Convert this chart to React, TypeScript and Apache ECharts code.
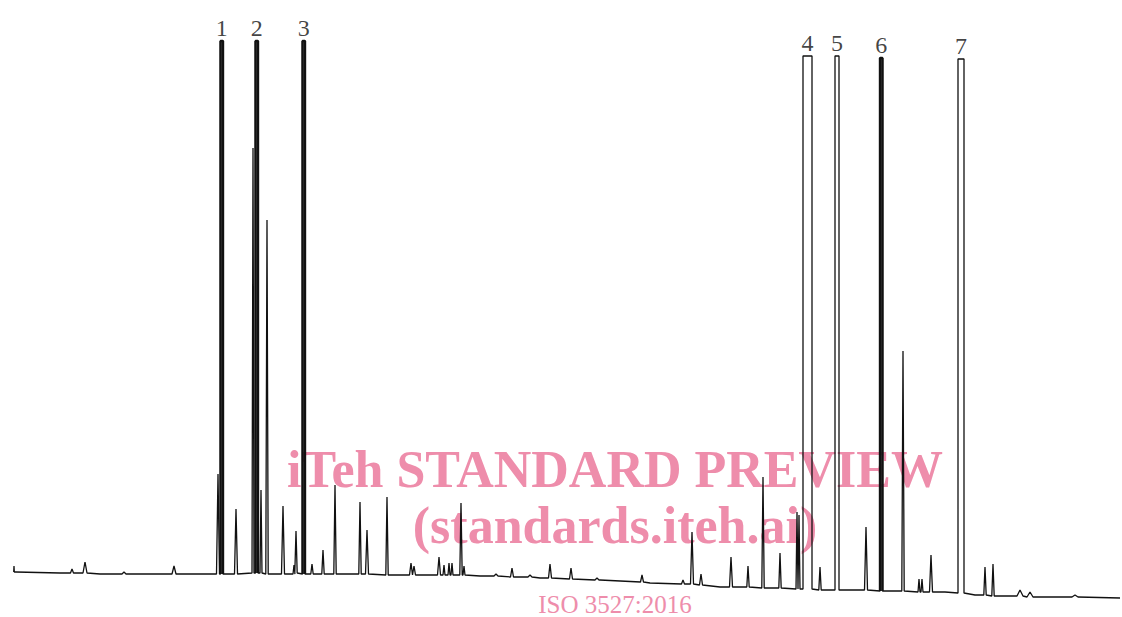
import React, { useEffect, useRef } from "react";
import * as echarts from "echarts";

// Chromatogram trace (x: retention position, arbitrary units; y: detector response, arbitrary units)
const BASELINE: [number, number][] = [
  [16, 45], [60, 44], [100, 43], [160, 43], [200, 43], [214, 43], [480, 41], [540, 39],
  [600, 37], [650, 34], [720, 30], [770, 29], [826, 27], [850, 27], [895, 26], [945, 25],
  [975, 22], [1000, 21], [1060, 20], [1120, 19],
];

// minor peaks: [position, apex response, foot response, half width]
const MINOR_PEAKS: [number, number, number, number][] = [
  [14, 51, 45, 0.3], [72, 48, 44, 1.5], [85, 55, 44, 2], [124, 45, 43, 2], [174, 51, 43, 2],
  [218, 143, 43, 1.5], [236, 108, 43, 1.5], [253, 469, 44, 1], [261, 127, 44, 1],
  [267, 397, 43, 1.2], [283, 111, 43, 1.5], [294, 52, 43, 1], [296, 86, 44, 1.2],
  [312, 53, 43, 1.2], [323, 67, 43, 1.2], [335, 132, 43, 1.2], [360, 115, 43, 1.2],
  [367, 87, 43, 1.5], [387, 120, 42, 1.2], [411, 54, 42, 1.5], [414, 51, 42, 1.5],
  [439, 60, 42, 1.5], [444, 52, 42, 1], [449, 54, 42, 1], [452, 54, 42, 1],
  [461, 114, 42, 1.2], [464, 51, 42, 1], [496, 43, 41, 2], [512, 49, 40, 1.5],
  [530, 42, 40, 2], [550, 53, 39, 1.5], [571, 49, 38, 1.5], [597, 39, 37, 2],
  [642, 42, 35, 1.5], [683, 37, 33, 1.5], [692, 85, 33, 1.5], [701, 43, 32, 1.5],
  [731, 60, 30, 1.5], [748, 51, 30, 1.2], [763, 140, 29, 1.2], [780, 64, 29, 1.2],
  [797, 105, 28, 1], [799, 102, 28, 1], [820, 50, 27, 1.2], [866, 90, 27, 1.5],
  [903, 266, 26, 1.2], [919, 38, 25, 1], [922, 38, 25, 1], [931, 62, 25, 1.5],
  [985, 50, 22, 1.2], [993, 53, 21, 1.2], [1020, 27, 21, 3], [1030, 25, 20, 3],
  [1075, 22, 20, 3],
];

// numbered (off-scale) peaks
const PEAK_NAMES = ["1", "2", "3", "4", "5", "6", "7"];
const PEAK_START = [220.5, 255.5, 302.5, 803, 835, 880, 958];
const PEAK_END = [223, 258, 305, 812, 839, 882.5, 964];
const PEAK_TOP = [576, 576, 576, 561, 561, 559, 558];
const PEAK_FOOT = [43, 44, 43, 28, 27, 26, 24];
const PEAK_SOLID = [true, true, true, false, false, true, false];

const X_MAX = 1122;
const Y_MAX = 617;

export default function App() {
  const ref = useRef<HTMLDivElement>(null);

  useEffect(() => {
    if (!ref.current) return;
    const chart = echarts.init(ref.current, null, { renderer: "svg" });

    const segments: [number, number][][] = [];
    BASELINE.forEach(([x, y]) => segments.push([[x, y]]));
    MINOR_PEAKS.forEach(([x, top, foot, hw]) =>
      segments.push([[x - hw, foot], [x, top], [x + hw, foot]])
    );
    const majorSeg = PEAK_NAMES.map((_, i) => [
      [PEAK_START[i], PEAK_FOOT[i]],
      [PEAK_START[i], PEAK_TOP[i]],
      [PEAK_END[i], PEAK_TOP[i]],
      [PEAK_END[i], PEAK_FOOT[i]],
    ] as [number, number][]);
    majorSeg.forEach((s) => segments.push(s));
    segments.sort((a, b) => a[0][0] - b[0][0]);
    const trace = segments.flat();

    const solidSeries = PEAK_NAMES.map((_, i) => i)
      .filter((i) => PEAK_SOLID[i])
      .map((i) => ({
        type: "line",
        data: majorSeg[i],
        showSymbol: false,
        lineStyle: { color: "#111", width: 2.4 },
        z: 3,
        silent: true,
      }));

    const pink = "#ee8dab";

    chart.setOption({
      animation: false,
      graphic: [
        {
          type: "text",
          x: 615,
          y: 443,
          z: 0,
          style: {
            text: "iTeh STANDARD PREVIEW",
            font: "bold 52px 'Liberation Serif'",
            fill: pink,
            align: "center",
            verticalAlign: "top",
          },
        },
        {
          type: "text",
          x: 615,
          y: 499,
          z: 0,
          style: {
            text: "(standards.iteh.ai)",
            font: "bold 52px 'Liberation Serif'",
            fill: pink,
            align: "center",
            verticalAlign: "top",
          },
        },
        {
          type: "text",
          x: 615,
          y: 592,
          z: 0,
          style: {
            text: "ISO 3527:2016",
            font: "25px 'Liberation Serif'",
            fill: pink,
            align: "center",
            verticalAlign: "top",
          },
        },
      ],
      grid: { left: 0, right: 0, top: 0, bottom: 0 },
      xAxis: { type: "value", min: 0, max: X_MAX, show: false },
      yAxis: { type: "value", min: 0, max: Y_MAX, show: false },
      series: [
        {
          type: "line",
          data: trace,
          showSymbol: false,
          lineStyle: { color: "#111", width: 1.3 },
          z: 3,
          silent: true,
        },
        ...solidSeries,
        {
          type: "scatter",
          symbolSize: 0,
          data: PEAK_NAMES.map((n, i) => ({
            name: n,
            value: [(PEAK_START[i] + PEAK_END[i]) / 2, PEAK_TOP[i]],
          })),
          label: {
            show: true,
            position: "top",
            distance: 1,
            formatter: "{b}",
            fontSize: 24,
            fontFamily: "Liberation Serif",
            color: "#111",
          },
          z: 4,
          silent: true,
        },
      ],
    });

    return () => chart.dispose();
  }, []);

  return (
    <div
      ref={ref}
      style={{ position: "fixed", left: 0, top: 0, width: 1122, height: 617, background: "#fff" }}
    />
  );
}
